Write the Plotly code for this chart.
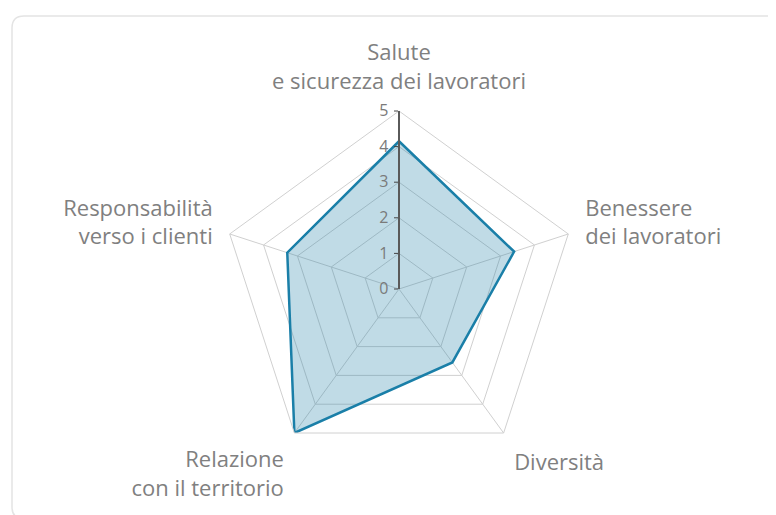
import plotly.graph_objects as go

categories = ["Salute<br>e sicurezza dei lavoratori", "Benessere<br>dei lavoratori", "Diversità",
              "Relazione<br>con il territorio", "Responsabilità<br>verso i clienti"]
values = [4.15, 3.4, 2.55, 5.0, 3.3]
radial_ticks = [0, 1, 2, 3, 4, 5]

W, H = 776, 515

fig = go.Figure()
fig.add_trace(go.Scatterpolar(
    r=values + values[:1],
    theta=categories + categories[:1],
    mode="lines",
    line=dict(color="#1a7fa8", width=2.5),
    fill="toself",
    fillcolor="rgba(28,127,166,0.28)",
    hoverinfo="skip",
    showlegend=False,
))

def px(x):
    return x / W

def py(y):
    return 1 - y / H

# rounded card
x0, y0, x1, y1, rr = 4, 8, 772, 511, 12
path = (f"M {px(x0+rr)},{py(y0)} L {px(x1-rr)},{py(y0)} Q {px(x1)},{py(y0)} {px(x1)},{py(y0+rr)} "
        f"L {px(x1)},{py(y1-rr)} Q {px(x1)},{py(y1)} {px(x1-rr)},{py(y1)} "
        f"L {px(x0+rr)},{py(y1)} Q {px(x0)},{py(y1)} {px(x0)},{py(y1-rr)} "
        f"L {px(x0)},{py(y0+rr)} Q {px(x0)},{py(y0)} {px(x0+rr)},{py(y0)} Z")

cx, cy, R = 391, 281, 178
fig.update_layout(
    width=W, height=H,
    margin=dict(l=0, r=0, t=0, b=0),
    paper_bgcolor="white",
    font=dict(family="Open Sans, Noto Sans, sans-serif", color="#808080"),
    shapes=[dict(type="path", path=path, xref="paper", yref="paper",
                 line=dict(color="#e4e4e4", width=1.5), fillcolor="rgba(0,0,0,0)", layer="below")],
    polar=dict(
        domain=dict(x=[px(cx - R), px(cx + R)], y=[py(cy + R), py(cy - R)]),
        gridshape="linear",
        bgcolor="white",
        radialaxis=dict(
            range=[0, 5], tickvals=radial_ticks, ticktext=[str(t) for t in radial_ticks],
            angle=90, tickangle=90, side="counterclockwise",
            showline=True, linecolor="#5a5a5a", linewidth=2,
            ticks="outside", ticklen=4, tickcolor="#444444",
            gridcolor="#d0d0d0", gridwidth=1,
            tickfont=dict(size=16, color="#7a7a7a"),
            layer="above traces",
        ),
        angularaxis=dict(
            rotation=90, direction="clockwise",
            showline=True, linecolor="#d0d0d0", linewidth=1,
            gridcolor="#d0d0d0", gridwidth=1,
            ticks="outside", ticklen=13, tickcolor="rgba(0,0,0,0)",
            tickfont=dict(size=22, color="#808080"),
        ),
    ),
)

fig.write_html("out.html")
